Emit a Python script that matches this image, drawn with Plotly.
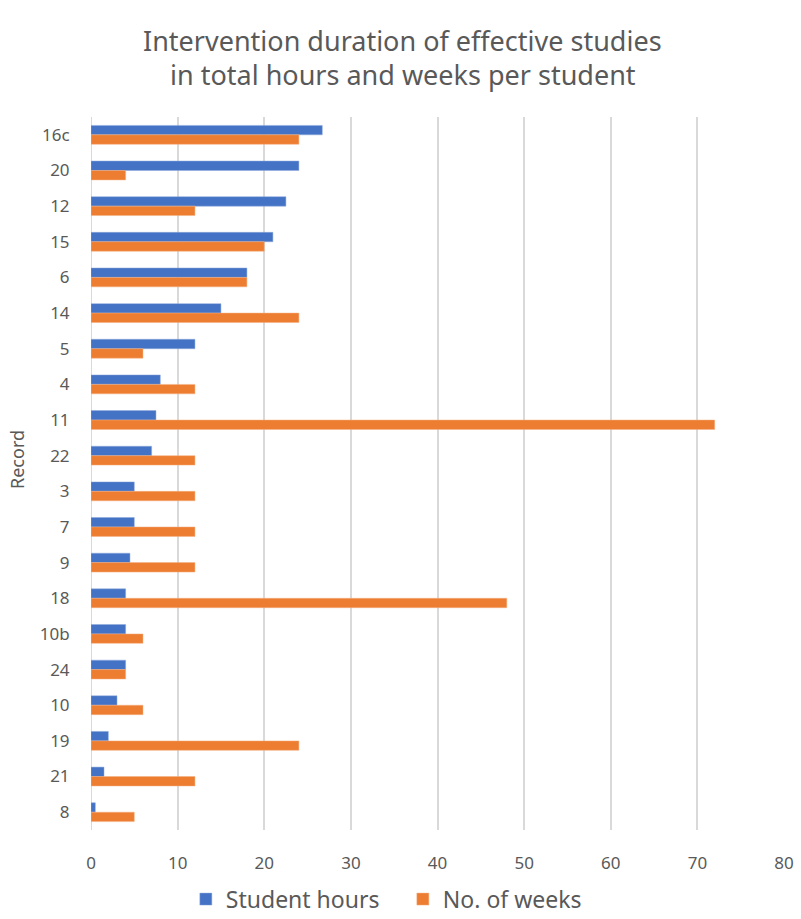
import plotly.graph_objects as go

records = ["16c", "20", "12", "15", "6", "14", "5", "4", "11", "22", "3", "7", "9", "18", "10b", "24", "10", "19", "21", "8"]
student_hours = [26.7, 24, 22.5, 21, 18, 15, 12, 8, 7.5, 7, 5, 5, 4.5, 4, 4, 4, 3, 2, 1.5, 0.5]
num_weeks = [24, 4, 12, 20, 18, 24, 6, 12, 72, 12, 12, 12, 12, 48, 6, 4, 6, 24, 12, 5]

title_lines = ["Intervention duration of effective studies", "in total hours and weeks per student"]

gray = "#595959"
font_family = "Noto Sans"

fig = go.Figure()
fig.add_trace(go.Bar(y=records, x=student_hours, orientation="h", name="Student hours",
                     marker=dict(color="#4472C4", line=dict(color="#8faadc", width=0.5))))
fig.add_trace(go.Bar(y=records, x=num_weeks, orientation="h", name="No. of weeks",
                     marker=dict(color="#ED7D31", line=dict(color="#f4b183", width=0.5))))

fig.update_layout(
    width=801, height=919,
    margin=dict(l=91, r=17, t=117, b=89, autoexpand=False),
    paper_bgcolor="white", plot_bgcolor="white",
    barmode="group", bargap=0.47, bargroupgap=0,
    font=dict(family=font_family, color=gray, size=17),
    legend=dict(orientation="h", x=0.45, xanchor="center", y=-0.097, yanchor="middle",
                font=dict(size=23, color=gray), itemwidth=30, traceorder="normal",
                entrywidth=172, entrywidthmode="pixels"),
    showlegend=True,
)
# title as two annotation lines
fig.add_annotation(text=title_lines[0], xref="paper", yref="paper", x=0.45, y=(830 - 41) / 713,
                   xanchor="center", yanchor="middle", showarrow=False,
                   font=dict(size=27, color=gray, family=font_family))
fig.add_annotation(text=title_lines[1], xref="paper", yref="paper", x=0.45, y=(830 - 75) / 713,
                   xanchor="center", yanchor="middle", showarrow=False,
                   font=dict(size=27, color=gray, family=font_family))
# y-axis title
fig.add_annotation(text="Record", xref="paper", yref="paper", x=(17 - 91) / 693, y=(830 - 460) / 713,
                   xanchor="center", yanchor="middle", showarrow=False, textangle=-90,
                   font=dict(size=18, color=gray, family=font_family))

fig.update_xaxes(range=[0, 80], dtick=10, showgrid=True, gridcolor="#d9d9d9", gridwidth=2,
                 zeroline=False, showline=False, ticks="outside", ticklen=18,
                 tickcolor="rgba(0,0,0,0)", tickfont=dict(size=17, color=gray))
fig.update_yaxes(autorange="reversed", showgrid=False, showline=False, ticks="outside",
                 ticklen=17, tickcolor="rgba(0,0,0,0)", tickfont=dict(size=17, color=gray))
fig.add_vline(x=0, line=dict(color="#d9d9d9", width=2), layer="below")

fig.write_html("out.html")
